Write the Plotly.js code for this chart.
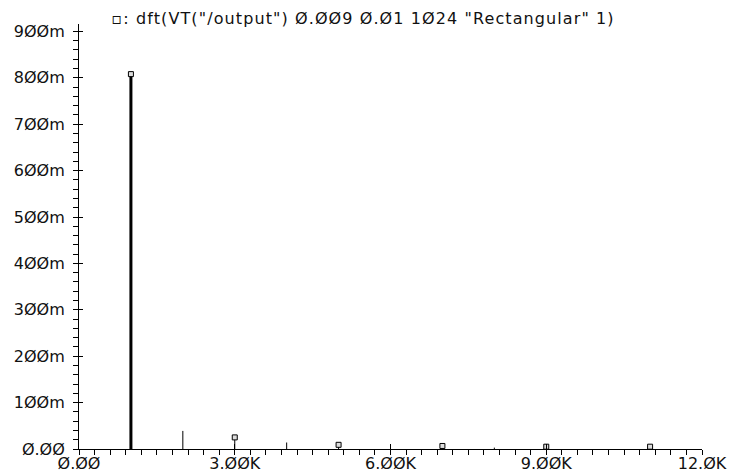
<!DOCTYPE html>
<html>
<head>
<meta charset="utf-8">
<script src="https://cdn.plot.ly/plotly-3.0.1.min.js"></script>
<style>html,body{margin:0;padding:0;background:#fff;}#chart{width:735px;height:473px;}.gtitle{letter-spacing:1.1px;}</style>
</head>
<body>
<div id="chart"></div>
<script>
// Spectrum values (Hz, V)
const freqs = [0, 1000, 2000, 3000, 4000, 5000, 6000, 7000, 8000, 9000, 10000, 11000, 12000];
const mags  = [0, 0.808, 0.039, 0.025, 0.014, 0.009, 0.0, 0.0065, 0.003, 0.005, 0.0, 0.005, 0.0];
const xTickVals = [0, 3000, 6000, 9000, 12000];
const xTickText = ["Ø.ØØ", "3.ØØK", "6.ØØK", "9.ØØK", "12.ØK"];
const yTickVals = [0, 0.1, 0.2, 0.3, 0.4, 0.5, 0.6, 0.7, 0.8, 0.9];
const yTickText = ["Ø.ØØ", "1ØØm", "2ØØm", "3ØØm", "4ØØm", "5ØØm", "6ØØm", "7ØØm", "8ØØm", "9ØØm"];
const titleText = '▫: dft(VT("/output") Ø.ØØ9 Ø.Ø1 1Ø24 "Rectangular" 1)';

// stems
const sx = [], sy = [];
freqs.forEach((f, i) => { sx.push(f, f, null); sy.push(0, mags[i], null); });
// strongest line drawn heavier
let iMax = 0;
mags.forEach((v, i) => { if (v > mags[iMax]) iMax = i; });
// markers on every other point
const mx = [], my = [];
freqs.forEach((f, i) => { if (i % 2 === 1) { mx.push(f); my.push(mags[i]); } });

const FONT = {family: "DejaVu Sans, sans-serif", size: 16, color: "#111"};
const traces = [
  {x: sx, y: sy, type: "scatter", mode: "lines", line: {color: "#000", width: 1}, showlegend: false, hoverinfo: "skip"},
  {x: [freqs[iMax], freqs[iMax]], y: [0, mags[iMax]], type: "scatter", mode: "lines", line: {color: "#000", width: 3}, showlegend: false},
  {x: mx, y: my, type: "scatter", mode: "markers", marker: {symbol: "square", size: 5, color: "#ddd", line: {color: "#000", width: 1}}, showlegend: false},
  {x: [], y: [], type: "scatter", xaxis: "x2", yaxis: "y2", showlegend: false}
];

const xr = [0, 12000], yr = [0, 0.916];
const layout = {
  width: 735, height: 473,
  paper_bgcolor: "#fff", plot_bgcolor: "#fff",
  margin: {l: 79, r: 33, t: 24, b: 24},
  font: FONT,
  title: {text: titleText, font: {family: "DejaVu Sans, sans-serif", size: 16, color: "#111"},
          xref: "paper", x: 0.052, xanchor: "left", yref: "container", y: 0.962, yanchor: "middle"},
  xaxis: {range: xr, tickvals: xTickVals, ticktext: xTickText, ticks: "inside", ticklen: 5, tickcolor: "#000",
          showline: true, linecolor: "#000", linewidth: 1, showgrid: false, zeroline: false,
          ticklabelstandoff: 0, tickfont: FONT,
          minor: {dtick: 300, tick0: 0, ticks: "outside", ticklen: 5, tickcolor: "#000", showgrid: false}},
  yaxis: {range: yr, tickvals: yTickVals, ticktext: yTickText, ticks: "inside", ticklen: 4, tickcolor: "#000",
          showline: true, linecolor: "#000", linewidth: 1, showgrid: false, zeroline: false,
          ticklabelstandoff: 10, tickfont: FONT,
          minor: {dtick: 0.02, tick0: 0, ticks: "outside", ticklen: 5, tickcolor: "#000", showgrid: false}},
  xaxis2: {overlaying: "x", anchor: "y", range: xr, tickvals: xTickVals, ticks: "outside", ticklen: 5, tickcolor: "#000",
           showticklabels: false, showline: false, showgrid: false, zeroline: false},
  yaxis2: {overlaying: "y", anchor: "x", range: yr, tickvals: yTickVals, ticks: "outside", ticklen: 5, tickcolor: "#000",
           showticklabels: false, showline: false, showgrid: false, zeroline: false}
};
Plotly.newPlot("chart", traces, layout, {displayModeBar: false, staticPlot: true});
</script>
</body>
</html>
